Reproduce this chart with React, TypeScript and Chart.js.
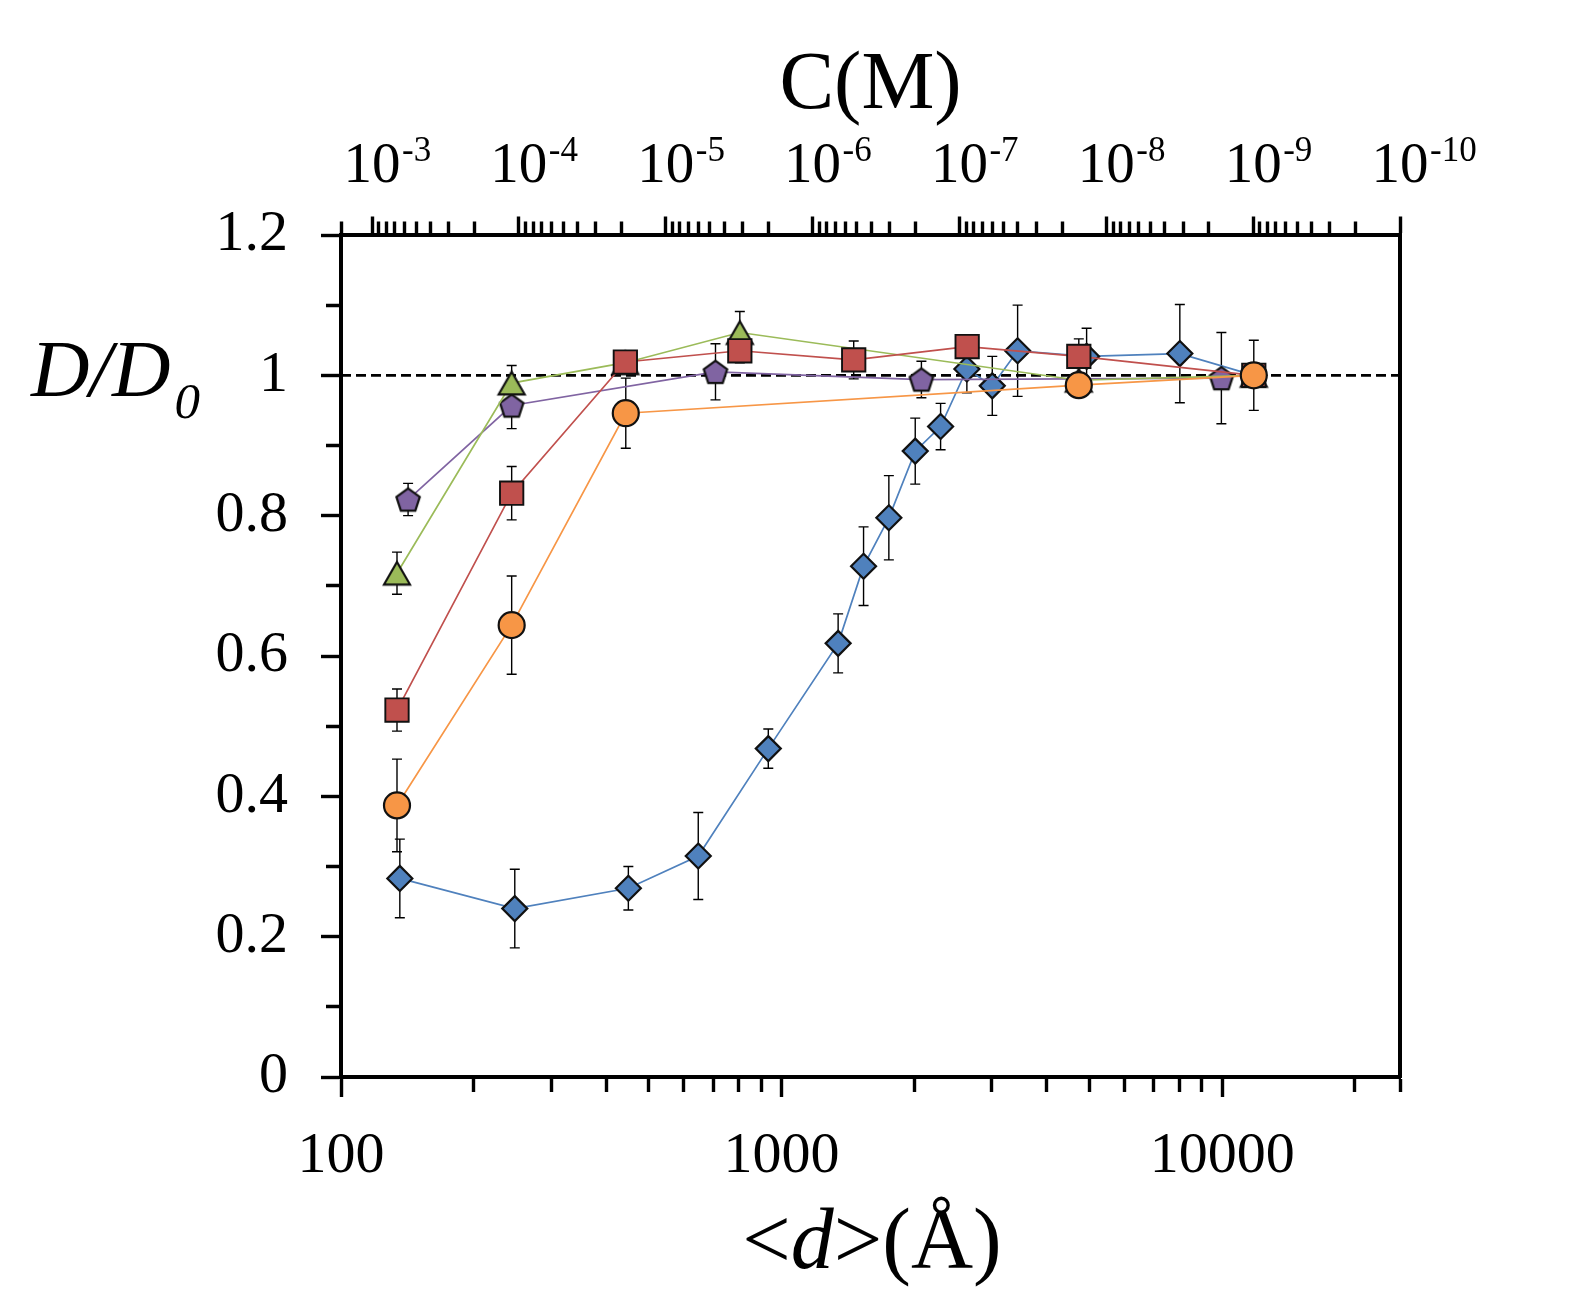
import React, { useEffect, useRef } from 'react';
import { Chart, registerables } from 'chart.js';

Chart.register(...registerables);

// ---------------- data ----------------
const blueD = [136, 248, 449, 647, 933, 1344, 1535, 1752, 2011, 2296, 2634, 3008, 3434, 4925, 8017, 11800];
const blueY = [0.283, 0.240, 0.269, 0.315, 0.468, 0.618, 0.728, 0.797, 0.892, 0.927, 1.009, 0.985, 1.035, 1.027, 1.031, 1.0];
const blueErr = [0.056, 0.056, 0.031, 0.062, 0.028, 0.042, 0.056, 0.06, 0.047, 0.033, 0.034, 0.042, 0.065, 0.04, 0.07, 0];

const redD = [134, 244, 442, 804, 1458, 2638, 4728, 11800];
const redY = [0.523, 0.832, 1.019, 1.035, 1.022, 1.041, 1.027, 1.0];
const redErr = [0.03, 0.038, 0, 0.017, 0.027, 0.015, 0.025, 0];

const greenD = [134, 244, 442, 804, 4728, 11800];
const greenY = [0.718, 0.989, 1.018, 1.061, 0.993, 1.0];
const greenErr = [0.03, 0.025, 0, 0.03, 0, 0];

const purpleD = [142, 244, 708, 2077, 9961];
const purpleY = [0.823, 0.957, 1.005, 0.994, 0.996];
const purpleErr = [0.023, 0.033, 0.04, 0.026, 0.065];

const orangeD = [134, 244, 443, 4728, 11800];
const orangeY = [0.387, 0.644, 0.946, 0.986, 1.0];
const orangeErr = [0.066, 0.07, 0.05, 0, 0.05];

const REF_LINE_Y = 1;

const Y_MIN = 0;
const Y_MAX = 1.2;
const Y_TICKS = [0, 0.1, 0.2, 0.3, 0.4, 0.5, 0.6, 0.7, 0.8, 0.9, 1.0, 1.1, 1.2];
const Y_LABELED = [0, 0.2, 0.4, 0.6, 0.8, 1, 1.2];

// bottom axis <d>(Å) and top axis C(M): C = C_REF * (D_REF / d)^3
const D_MIN = 100;
const C_REF = 1e-3;
const D_REF = 117.6;
const C_RIGHT = 1e-10;
const D_MAX = D_REF * Math.cbrt(C_REF / C_RIGHT);
const C_LEFT = C_REF * Math.pow(D_REF / D_MIN, 3);
const TOP_EXPONENTS = [-3, -4, -5, -6, -7, -8, -9, -10];

// ---------------- styles ----------------
const FONT = '"Liberation Serif", "Times New Roman", serif';
const BORDER_W = 4;
const HALF = BORDER_W / 2;
const TICK_W = 3.4;

function logTicks(min: number, max: number) {
  const out: number[] = [];
  for (let n = Math.floor(Math.log10(min)) - 1; n <= Math.ceil(Math.log10(max)); n++) {
    for (let k = 1; k <= 9; k++) {
      const v = k * Math.pow(10, n);
      if (v >= min * (1 - 1e-9) && v <= max * (1 + 1e-9)) out.push(v);
    }
  }
  return out;
}
const isPow10 = (v: number) => Math.abs(Math.log10(v) - Math.round(Math.log10(v))) < 1e-6;

function makeMarker(kind: 'pentagon' | 'triangle', fill: string) {
  const c = document.createElement('canvas');
  c.width = 32;
  c.height = 32;
  const g = c.getContext('2d')!;
  g.beginPath();
  if (kind === 'pentagon') {
    const R = 12.3;
    const cx = 16;
    const cy = 16 + 0.0955 * R;
    for (let k = 0; k < 5; k++) {
      const a = -Math.PI / 2 + (k * 2 * Math.PI) / 5;
      const px = cx + R * Math.cos(a);
      const py = cy + R * Math.sin(a);
      if (k === 0) g.moveTo(px, py);
      else g.lineTo(px, py);
    }
  } else {
    g.moveTo(16, 16 - 11.3);
    g.lineTo(29, 16 + 11.3);
    g.lineTo(3, 16 + 11.3);
  }
  g.closePath();
  g.fillStyle = fill;
  g.fill();
  g.lineWidth = 2.2;
  g.lineJoin = 'miter';
  g.strokeStyle = '#111';
  g.stroke();
  return c;
}

const pts = (xs: number[], ys: number[]) => xs.map((x, i) => ({ x, y: ys[i] }));

const errorBarPlugin = {
  id: 'errorBars',
  beforeDatasetsDraw(chart: any) {
    const { ctx } = chart;
    const xs = chart.scales.x;
    const ys = chart.scales.y;
    ctx.save();
    ctx.strokeStyle = '#000';
    ctx.lineWidth = 1.4;
    chart.data.datasets.forEach((ds: any) => {
      if (!ds.errors) return;
      ds.data.forEach((p: any, i: number) => {
        const e = ds.errors[i];
        if (!e) return;
        const x = xs.getPixelForValue(p.x);
        const y1 = ys.getPixelForValue(p.y + e);
        const y2 = ys.getPixelForValue(p.y - e);
        ctx.beginPath();
        ctx.moveTo(x, y1);
        ctx.lineTo(x, y2);
        ctx.moveTo(x - 5, y1);
        ctx.lineTo(x + 5, y1);
        ctx.moveTo(x - 5, y2);
        ctx.lineTo(x + 5, y2);
        ctx.stroke();
      });
    });
    ctx.restore();
  },
};

const textPlugin = {
  id: 'texts',
  afterDraw(chart: any) {
    const { ctx, chartArea } = chart;
    const top = chart.scales.xTop;
    ctx.save();
    ctx.fillStyle = '#000';
    ctx.textBaseline = 'alphabetic';
    // top tick labels 10^n
    for (const n of TOP_EXPONENTS) {
      const x = top.getPixelForValue(Math.pow(10, n));
      ctx.font = `57px ${FONT}`;
      ctx.textAlign = 'center';
      ctx.fillText('10', x, 182);
      ctx.font = `35px ${FONT}`;
      ctx.textAlign = 'left';
      ctx.fillText(String(n), x + 30, 161);
    }
    // top title
    ctx.font = `82px ${FONT}`;
    ctx.textAlign = 'center';
    ctx.fillText('C(M)', (chartArea.left + chartArea.right) / 2, 108);

    // bottom title <d>(Å)
    const parts: [string, string][] = [
      ['<', `86px ${FONT}`],
      ['d', `italic 86px ${FONT}`],
      ['>(Å)', `86px ${FONT}`],
    ];
    let total = 0;
    for (const [t, f] of parts) {
      ctx.font = f;
      total += ctx.measureText(t).width;
    }
    let x = 872 - total / 2;
    ctx.textAlign = 'left';
    for (const [t, f] of parts) {
      ctx.font = f;
      ctx.fillText(t, x, 1268);
      x += ctx.measureText(t).width;
    }

    // y title D/D0
    ctx.font = `italic 81px ${FONT}`;
    ctx.fillText('D/D', 31, 396);
    const w = ctx.measureText('D/D').width;
    ctx.font = `italic 51px ${FONT}`;
    ctx.fillText('0', 31 + w + 4, 418);
    ctx.restore();
  },
};

export default function App() {
  const ref = useRef<HTMLCanvasElement>(null);

  useEffect(() => {
    document.body.style.margin = '0';
    const pentagon = makeMarker('pentagon', '#8064A2');
    const triangle = makeMarker('triangle', '#9BBB59');

    const bottomTicks = [...logTicks(D_MIN, D_MAX), D_MAX];
    const topTicks = [...logTicks(C_RIGHT, C_LEFT), C_LEFT].sort((a, b) => b - a);

    const common = { showLine: true, borderWidth: 1.7, pointBorderColor: '#111', pointBorderWidth: 2.2, tension: 0 };

    const chart = new Chart(ref.current!, {
      type: 'scatter',
      data: {
        datasets: [
          {
            ...common,
            label: 'orange',
            data: pts(orangeD, orangeY),
            errors: orangeErr,
            borderColor: '#F79646',
            pointBackgroundColor: '#F79646',
            pointStyle: 'circle',
            pointRadius: 13,
          } as any,
          {
            ...common,
            label: 'red',
            data: pts(redD, redY),
            errors: redErr,
            borderColor: '#C0504D',
            pointBackgroundColor: '#C0504D',
            pointStyle: 'rect',
            pointRadius: 16.5,
            pointBorderWidth: 1.9,
          } as any,
          {
            ...common,
            label: 'green',
            data: pts(greenD, greenY),
            errors: greenErr,
            borderColor: '#9BBB59',
            pointBackgroundColor: '#9BBB59',
            pointStyle: triangle,
          } as any,
          {
            ...common,
            label: 'purple',
            data: pts(purpleD, purpleY),
            errors: purpleErr,
            borderColor: '#8064A2',
            pointBackgroundColor: '#8064A2',
            pointStyle: pentagon,
          } as any,
          {
            ...common,
            label: 'blue',
            data: pts(blueD, blueY),
            errors: blueErr,
            borderColor: '#4F81BD',
            pointBackgroundColor: '#4F81BD',
            pointStyle: 'rectRot',
            pointRadius: 12.5,
          } as any,
          {
            label: 'ref',
            showLine: true,
            data: [
              { x: D_MIN, y: REF_LINE_Y },
              { x: D_MAX, y: REF_LINE_Y },
            ],
            borderColor: '#000',
            borderWidth: 2.7,
            borderDash: [10, 5],
            pointRadius: 0,
          } as any,
        ],
      },
      options: {
        animation: false,
        responsive: false,
        devicePixelRatio: 1,
        layout: { padding: { left: 0, right: 188, top: 0, bottom: 0 } },
        plugins: { legend: { display: false }, tooltip: { enabled: false } },
        scales: {
          x: {
            type: 'logarithmic',
            position: 'bottom',
            min: D_MIN,
            max: D_MAX,
            afterBuildTicks: (axis: any) => {
              axis.ticks = bottomTicks.map((v) => ({ value: v }));
            },
            afterFit: (s: any) => {
              s.height = 1313 - 1077;
            },
            grid: {
              display: true,
              drawOnChartArea: false,
              drawTicks: true,
              tickLength: 20,
              tickWidth: TICK_W,
              tickColor: '#000',
              tickBorderDash: (c: any) => (c.tick && isPow10(c.tick.value) ? [] : [13, 400]),
            },
            border: { display: true, color: '#000', width: BORDER_W },
            ticks: {
              autoSkip: false,
              maxRotation: 0,
              minRotation: 0,
              padding: 25,
              color: '#000',
              font: { family: FONT, size: 58 },
              callback: (v: any) => (isPow10(Number(v)) ? String(Math.round(Number(v))) : ''),
            },
          },
          xTop: {
            type: 'logarithmic',
            position: 'top',
            reverse: true,
            min: C_RIGHT,
            max: C_LEFT,
            afterBuildTicks: (axis: any) => {
              axis.ticks = topTicks.map((v) => ({ value: v }));
            },
            afterFit: (s: any) => {
              s.height = 235;
            },
            grid: {
              display: true,
              drawOnChartArea: false,
              drawTicks: true,
              tickLength: 18.5,
              tickWidth: TICK_W,
              tickColor: '#000',
              tickBorderDash: (c: any) =>
                c.tick && isPow10(c.tick.value) ? [] : [0, 18.5 - HALF - 11.5, 400],
            },
            border: { display: true, color: '#000', width: BORDER_W },
            ticks: { display: false, autoSkip: false },
          },
          y: {
            type: 'linear',
            position: 'left',
            min: Y_MIN,
            max: Y_MAX,
            afterBuildTicks: (axis: any) => {
              axis.ticks = Y_TICKS.map((v) => ({ value: v }));
            },
            afterFit: (s: any) => {
              s.width = 341;
            },
            grid: {
              display: true,
              drawOnChartArea: false,
              drawTicks: true,
              tickLength: 20,
              tickWidth: TICK_W,
              tickColor: '#000',
              tickBorderDash: (c: any) => {
                const v = c.tick ? c.tick.value : 0;
                const major = Y_LABELED.some((m) => Math.abs(m - v) < 1e-6);
                return major ? [] : [0, 20 - HALF - 13, 400];
              },
            },
            border: { display: true, color: '#000', width: BORDER_W },
            ticks: {
              autoSkip: false,
              padding: 33,
              color: '#000',
              font: { family: FONT, size: 58 },
              callback: (v: any) => {
                const n = Number(v);
                return Y_LABELED.some((m) => Math.abs(m - n) < 1e-6) ? String(Math.round(n * 10) / 10) : '';
              },
            },
          },
          yRight: {
            type: 'linear',
            position: 'right',
            min: Y_MIN,
            max: Y_MAX,
            afterFit: (s: any) => {
              s.width = 0;
            },
            grid: { display: true, drawOnChartArea: false, drawTicks: false },
            border: { display: true, color: '#000', width: BORDER_W },
            ticks: { display: false },
          },
        },
      } as any,
      plugins: [errorBarPlugin, textPlugin],
    });
    return () => chart.destroy();
  }, []);

  return (
    <div style={{ position: 'fixed', left: 0, top: 0, width: 1588, height: 1313, background: '#fff' }}>
      <canvas ref={ref} width={1588} height={1313} style={{ width: '1588px', height: '1313px', display: 'block' }} />
    </div>
  );
}
